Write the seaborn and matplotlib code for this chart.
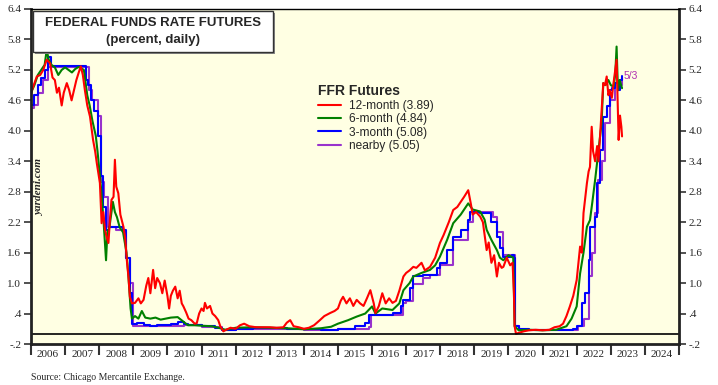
import numpy as np
import pandas as pd
import matplotlib
matplotlib.use('Agg')
import matplotlib.pyplot as plt
import seaborn as sns
from matplotlib.lines import Line2D
from matplotlib.patches import Rectangle

# 12-month futures (red)
t_12m = [2006.00, 2006.08, 2006.17, 2006.27, 2006.36, 2006.46, 2006.56, 2006.63, 2006.70, 2006.76,
         2006.82, 2006.90, 2006.96, 2007.05, 2007.12, 2007.19, 2007.26, 2007.33, 2007.40, 2007.46,
         2007.52, 2007.58, 2007.65, 2007.73, 2007.82, 2007.88, 2007.93, 2008.02, 2008.07, 2008.12,
         2008.17, 2008.22, 2008.27, 2008.32, 2008.36, 2008.42, 2008.46, 2008.50, 2008.56, 2008.62,
         2008.71, 2008.76, 2008.81, 2008.86, 2008.90, 2008.96, 2009.05, 2009.15, 2009.22, 2009.30,
         2009.38, 2009.44, 2009.50, 2009.58, 2009.64, 2009.70, 2009.78, 2009.85, 2009.92, 2010.00,
         2010.05, 2010.10, 2010.16, 2010.23, 2010.30, 2010.36, 2010.42, 2010.47, 2010.55, 2010.62,
         2010.70, 2010.80, 2010.86, 2010.93, 2011.00, 2011.06, 2011.10, 2011.16, 2011.25, 2011.32,
         2011.40, 2011.49, 2011.55, 2011.64, 2011.72, 2011.85, 2012.00, 2012.13, 2012.25, 2012.40,
         2012.60, 2012.80, 2013.00, 2013.20, 2013.40, 2013.50, 2013.60, 2013.70, 2013.85, 2014.00,
         2014.15, 2014.30, 2014.47, 2014.60, 2014.77, 2014.90, 2015.00, 2015.08, 2015.15, 2015.25,
         2015.35, 2015.45, 2015.55, 2015.65, 2015.75, 2015.85, 2015.95, 2016.05, 2016.10, 2016.20,
         2016.30, 2016.40, 2016.50, 2016.60, 2016.70, 2016.80, 2016.92, 2017.00, 2017.10, 2017.21,
         2017.30, 2017.45, 2017.55, 2017.70, 2017.85, 2017.99, 2018.10, 2018.25, 2018.38, 2018.50,
         2018.60, 2018.70, 2018.82, 2018.90, 2018.95, 2019.05, 2019.17, 2019.25, 2019.36, 2019.42,
         2019.50, 2019.58, 2019.66, 2019.72, 2019.80, 2019.85, 2019.95, 2020.05, 2020.12, 2020.16,
         2020.18, 2020.22, 2020.30, 2020.45, 2020.60, 2020.80, 2021.00, 2021.20, 2021.35, 2021.50,
         2021.60, 2021.70, 2021.80, 2021.90, 2022.00, 2022.10, 2022.15, 2022.20, 2022.30, 2022.35,
         2022.39, 2022.44, 2022.48, 2022.54, 2022.60, 2022.64, 2022.69, 2022.74, 2022.78, 2022.83,
         2022.88, 2022.93, 2022.97, 2023.03, 2023.08, 2023.13, 2023.17, 2023.20, 2023.23, 2023.27,
         2023.31, 2023.33]
v_12m = [4.74, 4.90, 5.07, 5.10, 5.20, 5.40, 5.33, 5.05, 5.00, 4.75,
         4.85, 4.50, 4.75, 4.94, 4.80, 4.60, 4.80, 5.00, 5.15, 5.27,
         5.10, 4.80, 4.50, 4.28, 3.82, 3.60, 3.36, 2.97, 2.18, 2.40,
         2.05, 1.90, 1.79, 2.30, 2.64, 2.70, 3.43, 2.90, 2.77, 2.35,
         2.11, 1.90, 1.45, 1.10, 0.73, 0.60, 0.61, 0.70, 0.60, 0.67,
         0.95, 1.10, 0.80, 1.26, 0.90, 1.10, 1.00, 0.80, 1.05, 0.75,
         0.50, 0.75, 0.85, 0.93, 0.70, 0.85, 0.60, 0.54, 0.42, 0.30,
         0.27, 0.20, 0.21, 0.40, 0.50, 0.45, 0.61, 0.50, 0.55, 0.40,
         0.35, 0.27, 0.15, 0.05, 0.08, 0.12, 0.10, 0.17, 0.20, 0.15,
         0.13, 0.13, 0.13, 0.12, 0.13, 0.22, 0.27, 0.15, 0.13, 0.10,
         0.12, 0.17, 0.27, 0.35, 0.41, 0.45, 0.50, 0.65, 0.73, 0.60,
         0.70, 0.55, 0.67, 0.60, 0.55, 0.70, 0.86, 0.60, 0.41, 0.55,
         0.80, 0.60, 0.70, 0.61, 0.65, 0.85, 1.13, 1.20, 1.25, 1.32,
         1.30, 1.40, 1.25, 1.32, 1.50, 1.79, 1.95, 2.20, 2.44, 2.50,
         2.60, 2.70, 2.83, 2.55, 2.35, 2.40, 2.31, 2.20, 1.65, 1.80,
         1.40, 1.55, 1.13, 1.40, 1.30, 1.32, 1.50, 1.35, 1.40, 0.80,
         0.15, 0.00, 0.02, 0.05, 0.07, 0.08, 0.07, 0.08, 0.13, 0.15,
         0.20, 0.35, 0.54, 0.75, 1.06, 1.72, 1.60, 2.38, 2.97, 3.20,
         3.29, 4.08, 3.60, 3.40, 3.70, 3.40, 3.95, 4.50, 4.94, 4.90,
         5.07, 4.70, 4.80, 4.65, 4.94, 5.20, 5.40, 4.60, 3.82, 4.30,
         4.08, 3.89]

# 6-month futures (green)
t_6m = [2006.00, 2006.10, 2006.20, 2006.30, 2006.40, 2006.46, 2006.52, 2006.60, 2006.70, 2006.80,
        2006.90, 2007.00, 2007.10, 2007.20, 2007.30, 2007.40, 2007.55, 2007.65, 2007.72, 2007.80,
        2007.90, 2007.95, 2008.05, 2008.12, 2008.20, 2008.24, 2008.30, 2008.40, 2008.46, 2008.52,
        2008.60, 2008.70, 2008.80, 2008.85, 2008.92, 2008.96, 2009.05, 2009.15, 2009.25, 2009.35,
        2009.50, 2009.65, 2009.80, 2009.95, 2010.10, 2010.30, 2010.45, 2010.60, 2010.80, 2011.00,
        2011.30, 2011.50, 2011.70, 2012.00, 2012.50, 2013.00, 2013.50, 2014.00, 2014.50, 2014.80,
        2015.00, 2015.30, 2015.55, 2015.80, 2016.00, 2016.10, 2016.30, 2016.60, 2016.80, 2016.92,
        2017.10, 2017.21, 2017.45, 2017.70, 2017.85, 2017.99, 2018.20, 2018.38, 2018.60, 2018.82,
        2018.95, 2019.17, 2019.30, 2019.36, 2019.50, 2019.66, 2019.75, 2019.85, 2020.00, 2020.14,
        2020.18, 2020.30, 2020.60, 2021.00, 2021.40, 2021.70, 2021.85, 2022.00, 2022.10, 2022.20,
        2022.30, 2022.39, 2022.46, 2022.54, 2022.63, 2022.73, 2022.78, 2022.85, 2022.93, 2023.00,
        2023.08, 2023.13, 2023.17, 2023.21, 2023.26, 2023.33]
v_6m = [4.75, 4.90, 5.10, 5.20, 5.30, 5.59, 5.40, 5.30, 5.25, 5.10,
        5.20, 5.25, 5.20, 5.15, 5.22, 5.26, 5.20, 4.70, 4.50, 4.20,
        3.90, 3.60, 2.90, 2.30, 1.45, 2.00, 2.10, 2.60, 2.40, 2.30,
        2.10, 2.00, 1.60, 1.20, 0.50, 0.30, 0.35, 0.30, 0.45, 0.32,
        0.30, 0.32, 0.28, 0.30, 0.32, 0.33, 0.25, 0.17, 0.17, 0.16,
        0.15, 0.12, 0.08, 0.12, 0.13, 0.12, 0.11, 0.09, 0.11, 0.14,
        0.20, 0.27, 0.34, 0.40, 0.54, 0.40, 0.50, 0.47, 0.60, 0.86,
        1.00, 1.13, 1.20, 1.26, 1.35, 1.52, 1.85, 2.18, 2.35, 2.57,
        2.45, 2.41, 2.25, 2.05, 1.85, 1.65, 1.50, 1.45, 1.55, 1.50,
        0.15, 0.07, 0.08, 0.07, 0.08, 0.15, 0.30, 0.54, 1.19, 1.60,
        2.11, 2.24, 2.60, 3.03, 3.56, 4.15, 4.94, 4.90, 5.00, 4.90,
        4.87, 5.10, 5.66, 4.80, 5.00, 4.84]

# 3-month futures (blue)
t_3m = [2006.00, 2006.10, 2006.20, 2006.30, 2006.40, 2006.50, 2006.60, 2007.00, 2007.55, 2007.62,
        2007.68, 2007.75, 2007.85, 2007.95, 2008.05, 2008.12, 2008.20, 2008.30, 2008.40, 2008.55,
        2008.70, 2008.80, 2008.90, 2008.97, 2009.10, 2009.30, 2009.50, 2009.70, 2009.90, 2010.10,
        2010.30, 2010.50, 2010.60, 2011.00, 2011.40, 2011.60, 2012.00, 2012.50, 2013.00, 2013.50,
        2014.00, 2014.50, 2015.00, 2015.50, 2015.80, 2015.92, 2016.30, 2016.60, 2016.85, 2016.92,
        2017.10, 2017.21, 2017.50, 2017.70, 2017.90, 2017.99, 2018.20, 2018.38, 2018.60, 2018.82,
        2018.87, 2019.17, 2019.36, 2019.50, 2019.66, 2019.75, 2019.85, 2020.10, 2020.15, 2020.18,
        2020.30, 2020.60, 2021.00, 2021.50, 2021.90, 2022.00, 2022.15, 2022.25, 2022.35, 2022.39,
        2022.54, 2022.59, 2022.69, 2022.78, 2022.88, 2022.97, 2023.05, 2023.12, 2023.21, 2023.27,
        2023.33]
v_3m = [4.50, 4.70, 4.90, 5.05, 5.20, 5.45, 5.27, 5.27, 5.27, 5.00,
        4.90, 4.60, 4.40, 3.90, 3.10, 2.50, 2.05, 2.10, 2.10, 2.10,
        2.05, 1.50, 0.80, 0.20, 0.22, 0.18, 0.16, 0.17, 0.18, 0.20,
        0.24, 0.20, 0.17, 0.15, 0.12, 0.08, 0.10, 0.12, 0.11, 0.10,
        0.09, 0.08, 0.10, 0.16, 0.21, 0.37, 0.38, 0.41, 0.55, 0.67,
        0.90, 1.13, 1.15, 1.16, 1.30, 1.39, 1.65, 1.91, 2.05, 2.24,
        2.41, 2.38, 2.38, 2.20, 1.91, 1.70, 1.52, 1.55, 1.50, 0.15,
        0.10, 0.08, 0.07, 0.07, 0.10, 0.15, 0.61, 0.80, 1.45, 2.11,
        2.30, 2.97, 3.62, 4.28, 4.48, 4.80, 4.85, 4.94, 4.80, 5.00,
        5.08]

# nearby futures (purple)
t_near = [2006.00, 2006.10, 2006.20, 2006.35, 2006.50, 2007.00, 2007.60, 2007.70, 2007.80, 2007.95,
          2008.05, 2008.15, 2008.25, 2008.50, 2008.70, 2008.80, 2008.90, 2009.00, 2009.50, 2010.00,
          2010.50, 2011.00, 2011.60, 2012.00, 2013.00, 2014.00, 2015.00, 2015.90, 2015.97, 2016.50,
          2016.92, 2017.00, 2017.21, 2017.50, 2017.70, 2017.99, 2018.38, 2018.82, 2018.95, 2019.40,
          2019.55, 2019.66, 2019.85, 2020.15, 2020.18, 2020.30, 2021.00, 2022.05, 2022.20, 2022.35,
          2022.44, 2022.54, 2022.63, 2022.73, 2022.83, 2022.93, 2022.97, 2023.12, 2023.25, 2023.33]
v_near = [4.45, 4.50, 4.75, 5.00, 5.25, 5.25, 5.25, 4.80, 4.60, 4.30,
          3.00, 2.70, 2.10, 2.05, 2.00, 1.50, 1.00, 0.15, 0.15, 0.15,
          0.18, 0.13, 0.08, 0.10, 0.10, 0.08, 0.10, 0.13, 0.37, 0.38,
          0.60, 0.65, 0.99, 1.10, 1.15, 1.35, 1.85, 2.20, 2.40, 2.40,
          2.30, 2.00, 1.55, 1.55, 0.15, 0.07, 0.07, 0.15, 0.30, 1.13,
          1.59, 2.38, 3.03, 3.40, 4.15, 4.15, 4.61, 4.94, 4.90, 5.05]

years = list(range(2006, 2025))
y_ticks = [-0.2, 0.4, 1.0, 1.6, 2.2, 2.8, 3.4, 4.0, 4.6, 5.2, 5.8, 6.4]
y_labels = ['-.2', '.4', '1.0', '1.6', '2.2', '2.8', '3.4', '4.0', '4.6', '5.2', '5.8', '6.4']

series = [
    ('nearby (5.05)', t_near, v_near, '#9933CC', 'steps-post'),
    ('3-month (5.08)', t_3m, v_3m, '#0000FF', 'steps-post'),
    ('6-month (4.84)', t_6m, v_6m, '#008000', 'default'),
    ('12-month (3.89)', t_12m, v_12m, '#FF0000', 'default'),
]

sns.set_style('ticks')
plt.rcParams['font.family'] = ['Liberation Serif', 'DejaVu Serif']
sans = ['Liberation Sans', 'DejaVu Sans']

fig = plt.figure(figsize=(7.18, 3.85), dpi=100)
ax = fig.add_axes([31 / 718, 1 - 344 / 385, 648 / 718, 335 / 385])
ax.set_facecolor('#FFFFE3')

for name, t, v, col, ds in series:
    df = pd.DataFrame({'date': t, 'rate': v})
    sns.lineplot(data=df, x='date', y='rate', ax=ax, color=col, linewidth=1.5,
                 drawstyle=ds, estimator=None, sort=False)

ax.axhline(0, color='black', linewidth=1.2)
ax.set_xlim(2006, 2025)
ax.set_ylim(-0.2, 6.4)
ax.set_xlabel('')
ax.set_ylabel('')

ax.set_xticks(years + [2025])
ax.set_xticklabels([])
ax.set_xticks([y + 0.5 for y in years], minor=True)
ax.set_xticklabels([str(y) for y in years], minor=True, fontsize=8)
ax.tick_params(axis='x', which='major', direction='out', length=8, width=1.5, color='#333333')
ax.tick_params(axis='x', which='minor', length=0, pad=4)

ax.set_yticks(y_ticks)
ax.set_yticklabels(y_labels, fontsize=8)
ax.tick_params(axis='y', direction='out', length=5, width=1.2, left=True, right=True,
               labelleft=True, labelright=True, color='#333333', pad=2)

for side in ['left', 'right', 'bottom']:
    ax.spines[side].set_linewidth(2)
    ax.spines[side].set_color('#222222')
ax.spines['top'].set_visible(True)
ax.spines['top'].set_linewidth(1)
ax.spines['top'].set_color('black')

# title box
fig.patches.append(Rectangle((35 / 718, 1 - 54 / 385), 240 / 718, 41 / 385,
                             transform=fig.transFigure, facecolor='#888888',
                             edgecolor='none', zorder=4))
fig.patches.append(Rectangle((33 / 718, 1 - 52 / 385), 240 / 718, 41 / 385,
                             transform=fig.transFigure, facecolor='white',
                             edgecolor='#333333', linewidth=1, zorder=5))
fig.text(153 / 718, 1 - 23 / 385, 'FEDERAL FUNDS RATE FUTURES', ha='center', va='center',
         fontsize=9.5, fontweight='bold', family=sans, zorder=6)
fig.text(153 / 718, 1 - 40 / 385, '(percent, daily)', ha='center', va='center',
         fontsize=9.5, fontweight='bold', family=sans, zorder=6)

# legend
handles = [Line2D([], [], color=c, linewidth=1.5) for _, _, _, c, _ in series][::-1]
labels = [n for n, _, _, _, _ in series][::-1]
leg = ax.legend(handles, labels, title='FFR Futures', loc='upper left',
                bbox_to_anchor=(310 / 718, 1 - 76 / 385), bbox_transform=fig.transFigure,
                frameon=False, handlelength=1.9, handletextpad=0.7,
                labelspacing=0.12, alignment='left', borderpad=0.2,
                prop={'family': sans, 'size': 8.6},
                title_fontproperties={'family': sans, 'weight': 'bold', 'size': 10})

ax.text(2023.38, 5.08, '5/3', color='#B030B0', fontsize=7.5,
        family=sans, va='center', ha='left')

fig.text(40 / 718, 1 - 187 / 385, 'yardeni.com', rotation=90, ha='center', va='center',
         fontsize=8, fontstyle='italic', fontweight='bold')

fig.text(31 / 718, 1 - 378 / 385, 'Source: Chicago Mercantile Exchange.', ha='left',
         va='center', fontsize=7)

fig.savefig('out.png', dpi=100)
